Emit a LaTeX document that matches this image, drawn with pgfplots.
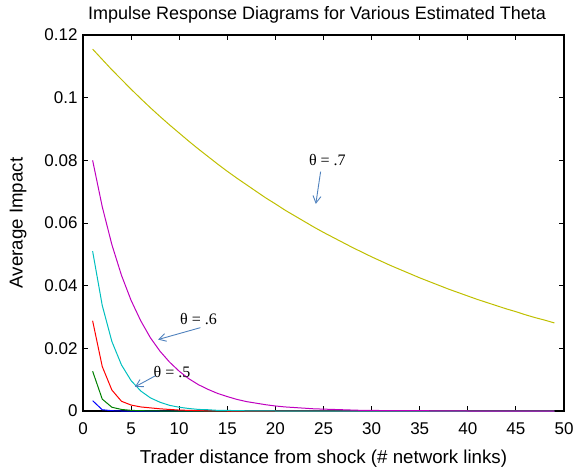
\documentclass[border=0pt]{standalone}
\usepackage{pgfplots}
\pgfplotsset{compat=1.18}
\usepackage{fontspec}
\setmainfont{Liberation Sans}
\newfontfamily\timesfont{Liberation Serif}
\usetikzlibrary{arrows.meta}
\definecolor{my}{RGB}{191,191,0}
\definecolor{mm}{RGB}{191,0,191}
\definecolor{mc}{RGB}{0,191,191}
\definecolor{mr}{RGB}{255,0,0}
\definecolor{mg}{RGB}{0,128,0}
\definecolor{mb}{RGB}{0,0,255}
\definecolor{arr}{RGB}{79,129,189}
\pgfplotstableread{
x y
1 0.1155
2 0.1122
3 0.1089
4 0.1058
5 0.1027
6 0.0997
7 0.0968
8 0.0940
9 0.0913
10 0.0887
11 0.0861
12 0.0836
13 0.0812
14 0.0788
15 0.0765
16 0.0743
17 0.0722
18 0.0701
19 0.0680
20 0.0661
21 0.0641
22 0.0623
23 0.0605
24 0.0587
25 0.0570
26 0.0554
27 0.0538
28 0.0522
29 0.0507
30 0.0492
31 0.0478
32 0.0464
33 0.0451
34 0.0438
35 0.0425
36 0.0413
37 0.0401
38 0.0389
39 0.0378
40 0.0367
41 0.0356
42 0.0346
43 0.0336
44 0.0326
45 0.0317
46 0.0307
47 0.0298
48 0.0290
49 0.0281
}\tseven
\pgfplotstableread{
x y
1 0.0800
2 0.0652
3 0.0531
4 0.0433
5 0.0353
6 0.0288
7 0.0234
8 0.0191
9 0.0156
10 0.0127
11 0.0103
12 0.0084
13 0.0069
14 0.0056
15 0.0046
16 0.0037
17 0.0030
18 0.0025
19 0.0020
20 0.0016
21 0.0013
22 0.0011
23 0.0009
24 0.0007
25 0.0006
26 0.0005
27 0.0004
28 0.0003
29 0.0002
30 0.0002
32 0.0001
35 0.0001
40 0.0000
49 0.0000
}\tsix
\pgfplotstableread{
x y
1 0.0510
2 0.0337
3 0.0222
4 0.0147
5 0.0097
6 0.0064
7 0.0042
8 0.0028
9 0.0018
10 0.0012
11 0.0008
12 0.0005
13 0.0004
14 0.0002
15 0.0002
16 0.0001
20 0.0000
49 0.0000
}\tfive
\pgfplotstableread{
x y
1 0.0288
2 0.0142
3 0.0067
4 0.0031
5 0.0019
6 0.0013
7 0.0010
8 0.0007
9 0.0005
10 0.0003
11 0.0002
12 0.0001
15 0.0000
49 0.0000
}\tfour
\pgfplotstableread{
x y
1 0.0127
2 0.0038
3 0.0012
4 0.0005
5 0.0002
6 0.0001
8 0.0000
49 0.0000
}\tthree
\pgfplotstableread{
x y
1 0.0033
2 0.0004
3 0.0001
4 0.0000
49 0.0000
}\ttwo
\begin{document}
\begin{tikzpicture}
\begin{axis}[
  name=ax,
  scale only axis,
  width=481pt, height=376pt,
  xmin=0, xmax=50, ymin=0, ymax=0.12,
  xtick={0,5,...,50},
  xticklabels={0,5,10,15,20,25,30,35,40,45,50},
  ytick={0,0.02,0.04,0.06,0.08,0.1,0.12},
  yticklabels={0,0.02,0.04,0.06,0.08,0.1,0.12},
  scaled y ticks=false,
  tick align=inside,
  major tick length=5pt,
  axis line style={line width=1.3pt},
  every tick/.style={black, line width=0.9pt},
  tick label style={font=\fontsize{17}{19}\selectfont},
  xticklabel style={yshift=-8pt},
  yticklabel style={xshift=-2pt},
  xlabel={Trader distance from shock (\# network links)},
  ylabel={Average Impact},
  title={Impulse Response Diagrams for Various Estimated Theta},
  every axis title shift=0pt,
  title style={font=\fontsize{18}{20}\selectfont, at={(axis description cs:0.4865,1.0532)}, anchor=center},
  xlabel style={font=\fontsize{18.7}{20}\selectfont, at={(axis description cs:0.5,-0.127)}, anchor=center},
  ylabel style={font=\fontsize{18.7}{20}\selectfont, at={(axis description cs:-0.1351,0.5)}, anchor=center},
  every axis plot/.append style={line width=1pt, no marks},
  clip=true,
]
\addplot[mb] table[x=x,y=y]{\ttwo};
\addplot[mg] table[x=x,y=y]{\tthree};
\addplot[mr] table[x=x,y=y]{\tfour};
\addplot[mc] table[x=x,y=y]{\tfive};
\addplot[mm] table[x=x,y=y]{\tsix};
\addplot[my] table[x=x,y=y]{\tseven};
\node[font=\timesfont\fontsize{16}{18}\selectfont] at (axis cs:25.4,0.0800) {θ = .7};
\node[font=\timesfont\fontsize{16}{18}\selectfont] at (axis cs:12.0,0.0295) {θ = .6};
\node[font=\timesfont\fontsize{16}{18}\selectfont] at (axis cs:9.25,0.0125) {θ = .5};
\draw[arr, line width=0.9pt, -{Straight Barb[length=7pt,width=8pt]}] (axis cs:24.7,0.0764) -- (axis cs:24.2,0.0661);
\draw[arr, line width=0.9pt, -{Straight Barb[length=7pt,width=8pt]}] (axis cs:12.2,0.0266) -- (axis cs:7.8,0.0228);
\draw[arr, line width=0.9pt, -{Straight Barb[length=7pt,width=8pt]}] (axis cs:7.5,0.0112) -- (axis cs:5.4,0.0077);
\end{axis}
\pgfresetboundingbox
\path ([xshift=-83pt,yshift=-59pt]ax.south west) rectangle ([xshift=9pt,yshift=35pt]ax.north east);
\end{tikzpicture}
\end{document}
